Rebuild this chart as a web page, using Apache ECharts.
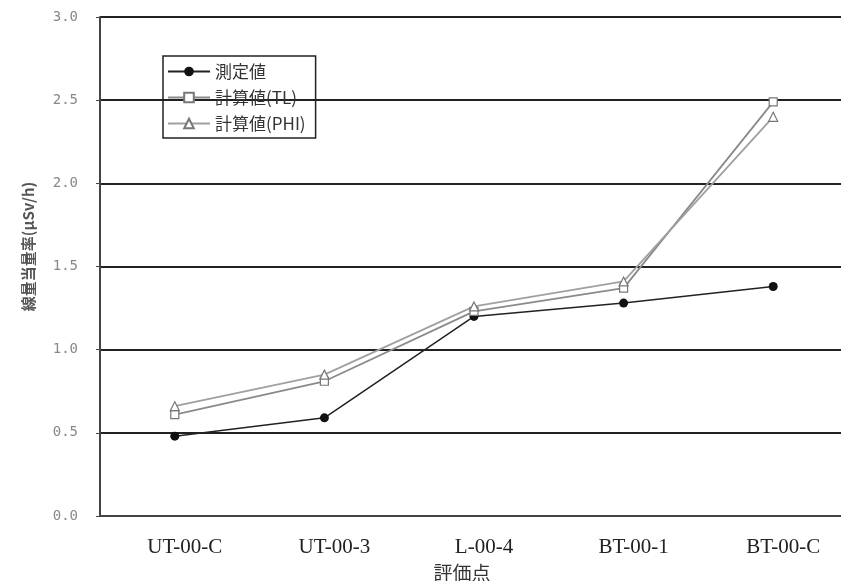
<!DOCTYPE html>
<html>
<head>
<meta charset="utf-8">
<script src="https://cdn.jsdelivr.net/npm/echarts@6/dist/echarts.min.js"></script>
<style>html,body{margin:0;padding:0;background:#fff;}#c{width:841px;height:581px;}</style>
</head>
<body>
<div id="c"></div>
<script>
var categories = ['UT-00-C', 'UT-00-3', 'L-00-4', 'BT-00-1', 'BT-00-C'];
var measured = [0.48, 0.59, 1.20, 1.28, 1.38];
var calcTL = [0.61, 0.81, 1.23, 1.37, 2.49];
var calcPHI = [0.66, 0.85, 1.26, 1.41, 2.40];
var seriesNames = ['測定値', '計算値(TL)', '計算値(PHI)'];
var yTicks = [0.0, 0.5, 1.0, 1.5, 2.0, 2.5, 3.0];

var chart = echarts.init(document.getElementById('c'));
chart.setOption({
  animation: false,
  backgroundColor: '#fff',
  grid: { left: 100, top: 17, width: 748, height: 499, containLabel: false, outerBoundsMode: 'none' },
  legend: {
    orient: 'vertical',
    left: 163, top: 56,
    padding: [7, 10, 6, 4],
    borderColor: '#222', borderWidth: 1.5,
    itemGap: 9, itemWidth: 42, itemHeight: 12,
    textStyle: { fontFamily: 'Noto Sans CJK JP', fontSize: 17, color: '#333' },
    data: seriesNames
  },
  xAxis: {
    type: 'category',
    data: categories,
    boundaryGap: true,
    name: '評価点',
    nameLocation: 'middle',
    nameGap: 46,
    nameTextStyle: { fontFamily: 'Noto Sans CJK JP', fontSize: 19, color: '#333', padding: [0, 24, 0, 0] },
    axisLine: { lineStyle: { color: '#444', width: 2 } },
    axisTick: { inside: true, length: 5, lineStyle: { color: '#444', width: 1.5 } },
    axisLabel: { margin: 21, fontFamily: 'Liberation Serif', fontSize: 21, color: '#222', padding: [0, 0, 0, 20] }
  },
  yAxis: {
    type: 'value',
    min: 0, max: 3, interval: 0.5,
    name: '線量当量率(μSv/h)',
    nameLocation: 'middle',
    nameGap: 64,
    nameTextStyle: { fontFamily: 'Noto Sans CJK JP', fontSize: 15, fontWeight: 'bold', color: '#555', padding: [0, 0, 0, 40] },
    axisLine: { show: true, lineStyle: { color: '#444', width: 2 } },
    axisTick: { show: true, length: 4, lineStyle: { color: '#444' } },
    axisLabel: {
      margin: 22, fontFamily: 'DejaVu Sans Mono', fontSize: 14, color: '#888',
      formatter: function (v) { return v.toFixed(1); }
    },
    splitLine: { lineStyle: { color: '#222', width: 2 } }
  },
  series: [
    {
      name: seriesNames[0], type: 'line', data: measured,
      symbol: 'circle', symbolSize: 9,
      itemStyle: { color: '#111' },
      lineStyle: { color: '#222', width: 1.5 }
    },
    {
      name: seriesNames[1], type: 'line', data: calcTL,
      symbol: 'rect', symbolSize: 8,
      itemStyle: { color: '#fff', borderColor: '#777', borderWidth: 1.2 },
      lineStyle: { color: '#8a8a8a', width: 1.8 }
    },
    {
      name: seriesNames[2], type: 'line', data: calcPHI,
      symbol: 'triangle', symbolSize: 9,
      itemStyle: { color: '#fff', borderColor: '#777', borderWidth: 1.2 },
      lineStyle: { color: '#a0a0a0', width: 1.8 }
    }
  ]
});
</script>
</body>
</html>
